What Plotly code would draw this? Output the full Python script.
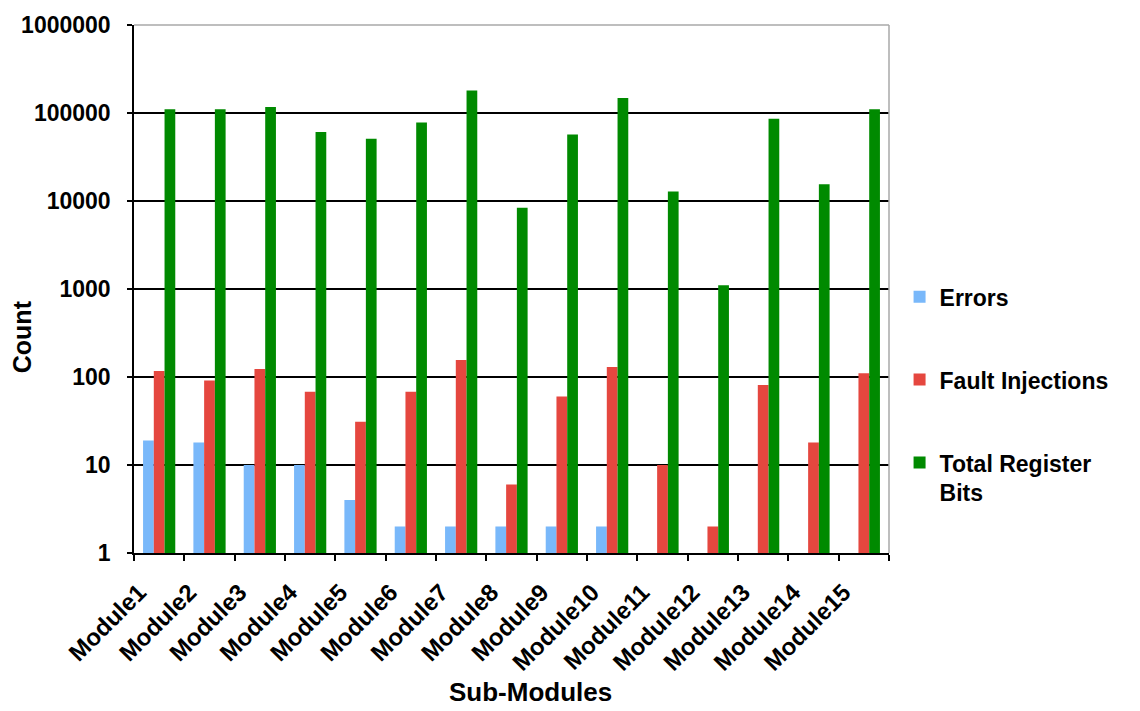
import plotly.graph_objects as go

modules = [f"Module{i}" for i in range(1, 16)]
errors = [19, 18, 10, 10, 4, 2, 2, 2, 2, 2, None, None, None, None, None]
fault_injections = [117, 91, 123, 68, 31, 68, 156, 6, 60, 130, 10, 2, 81, 18, 110]
register_bits = [110000, 110000, 117000, 61000, 51000, 78000, 180000, 8400,
                 57000, 148000, 12800, 1100, 86000, 15500, 110000]

y_tickvals = [1, 10, 100, 1000, 10000, 100000, 1000000]
y_ticktext = ["1", "10", "100", "1000", "10000", "100000", "1000000"]

FONT = "Liberation Sans, Arial, Helvetica, sans-serif"

fig = go.Figure()
fig.add_trace(go.Bar(x=modules, y=errors, name="Errors",
                     marker=dict(color="#79B8FA", line=dict(width=0)),
                     legendgroup="e"))
fig.add_trace(go.Bar(x=modules, y=fault_injections, name="Fault Injections",
                     marker=dict(color="#E5473F", line=dict(width=0)),
                     legendgroup="f"))
fig.add_trace(go.Bar(x=modules, y=register_bits, name="Total Register<br>Bits",
                     marker=dict(color="#008A00", line=dict(width=0)),
                     legendgroup="t"))

fig.update_layout(
    width=1140, height=711,
    margin=dict(l=134, r=251, t=22, b=158),
    paper_bgcolor="white", plot_bgcolor="white",
    barmode="group", bargap=0.36, bargroupgap=0,
    font=dict(family=FONT, color="black"),
    legend=dict(
        x=1.014, xanchor="left", y=0.526, yanchor="top",
        font=dict(family=FONT, size=23, color="black", weight="bold"),
        tracegroupgap=50, valign="top", bgcolor="rgba(0,0,0,0)",
    ),
    showlegend=True,
)

fig.update_yaxes(
    type="log", range=[0, 6],
    tickvals=y_tickvals, ticktext=y_ticktext,
    tickfont=dict(family=FONT, size=23, color="black", weight="bold"),
    ticks="outside", ticklen=5, tickcolor="black", tickwidth=1.5,
    ticklabelstandoff=12,
    showgrid=True, gridcolor="black", gridwidth=1.5,
    showline=True, linecolor="black", linewidth=1.5,
    zeroline=False,
)

fig.update_xaxes(
    type="category",
    tickangle=-45,
    tickfont=dict(family=FONT, size=24, color="black", weight="bold"),
    ticks="outside", ticklen=6, tickcolor="black", tickwidth=1.5,
    tickson="boundaries",
    ticklabelshift=-20, ticklabelstandoff=14,
    showline=True, linecolor="black", linewidth=1.5,
    showgrid=False,
)

# light grey frame on the top and right of the plot area
fig.add_shape(type="line", xref="paper", yref="paper", x0=0, x1=1, y0=1, y1=1,
              line=dict(color="#A8A8A8", width=1.5), layer="above")
fig.add_shape(type="line", xref="paper", yref="paper", x0=1, x1=1, y0=0, y1=1,
              line=dict(color="#A8A8A8", width=1.5), layer="above")

fig.add_annotation(text="Count", xref="paper", yref="paper",
                   x=(22 - 134) / 755, y=(553 - 335) / 531, textangle=-90,
                   showarrow=False, xanchor="center", yanchor="middle",
                   font=dict(family=FONT, size=25, color="black", weight="bold"))
fig.add_annotation(text="Sub-Modules", xref="paper", yref="paper",
                   x=(530 - 134) / 755, y=-(693 - 553) / 531,
                   showarrow=False, xanchor="center", yanchor="middle",
                   font=dict(family=FONT, size=26, color="black", weight="bold"))

fig.write_html("out.html")
